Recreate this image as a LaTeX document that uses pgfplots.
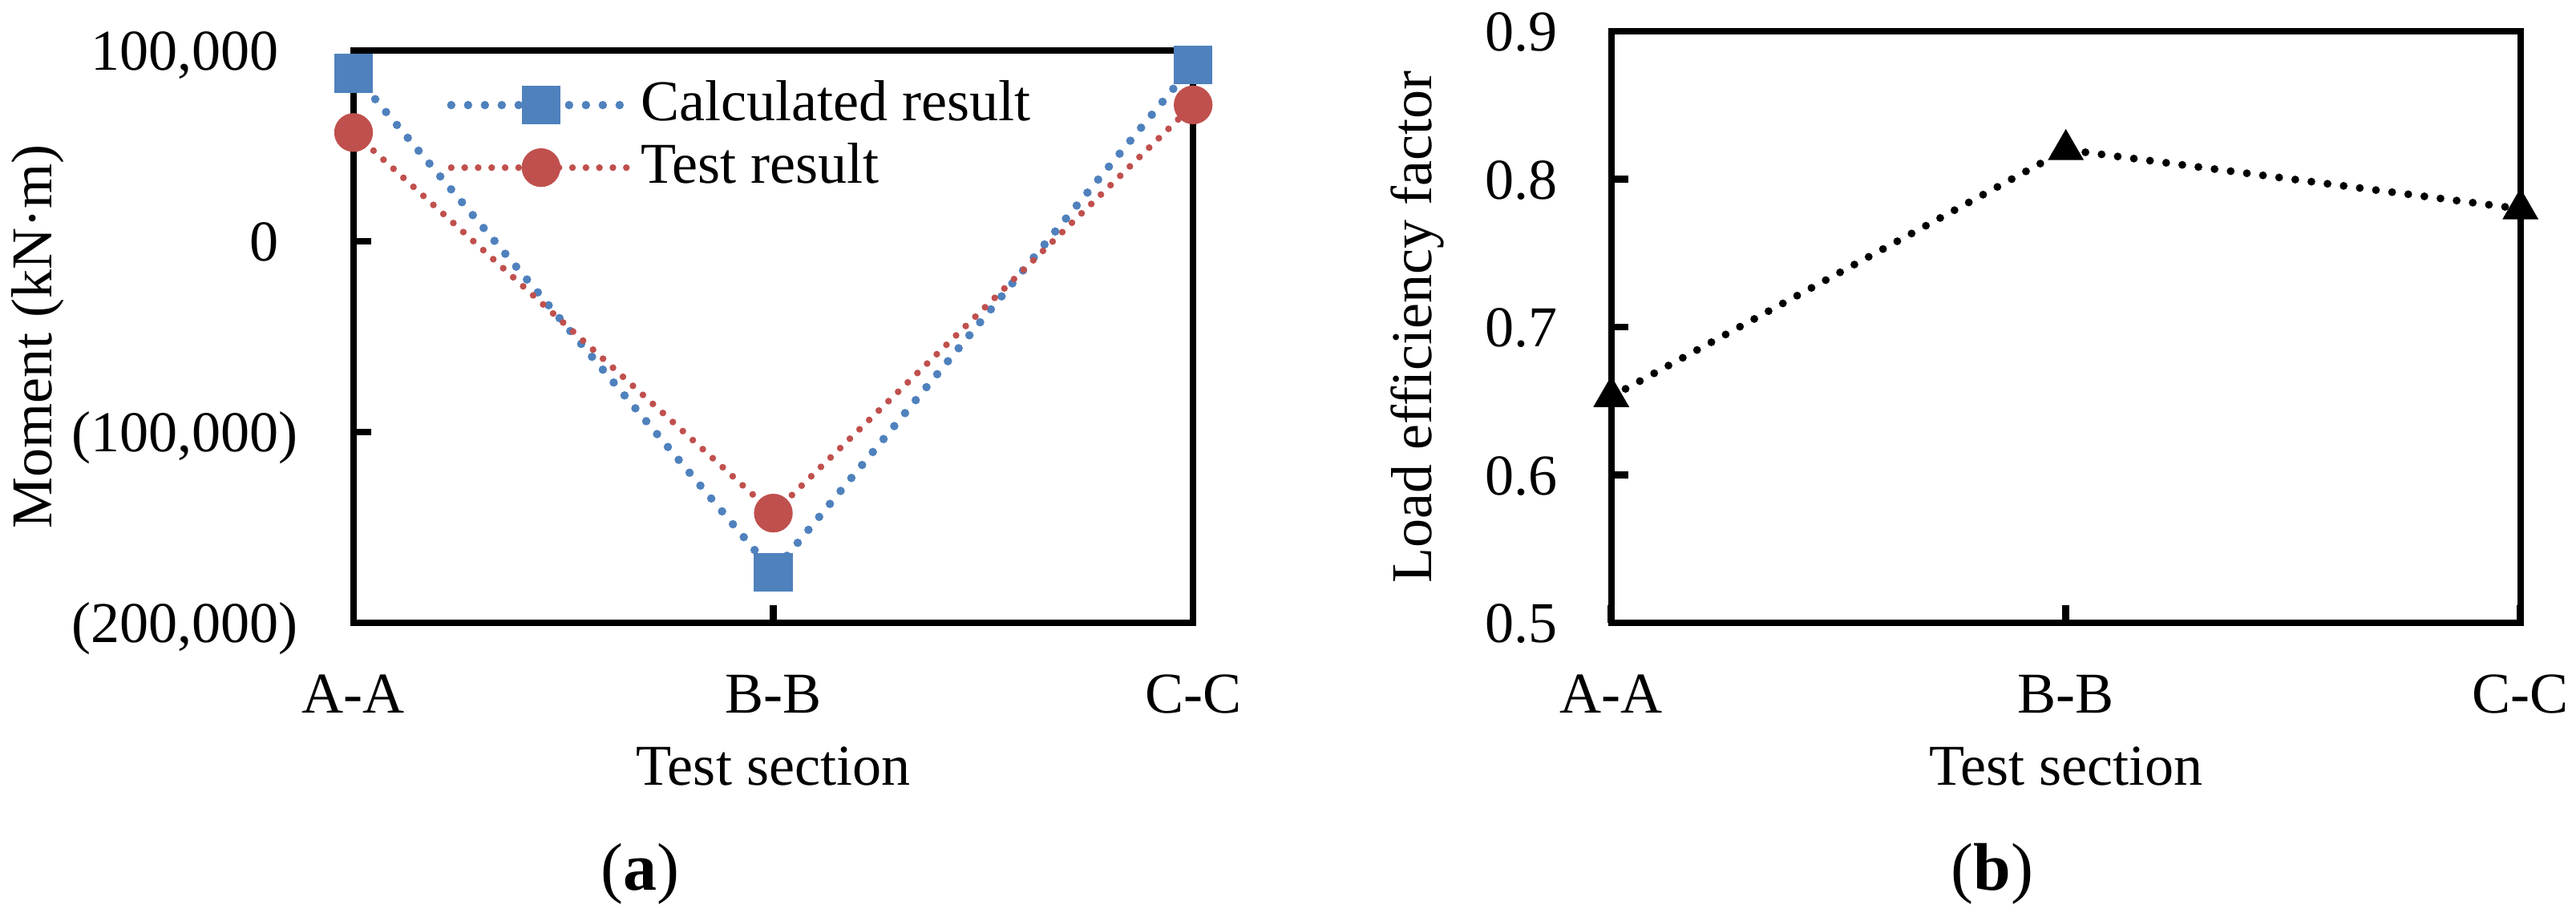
\documentclass[border=0pt]{standalone}
\usepackage{fontspec}
\setmainfont{Liberation Serif}
\usepackage{pgfplots}
\pgfplotsset{compat=1.18}
\definecolor{xlblue}{RGB}{79,129,189}
\definecolor{xlred}{RGB}{192,80,77}
\pgfplotsset{
  myaxis/.style={
    scale only axis,
    anchor=south west,
    axis line style={line width=1.1pt},
    tick align=inside,
    tick pos=left,
    major tick length=3.1pt,
    every tick/.style={black, line width=1.2pt},
    scaled y ticks=false,
    xmin=0, xmax=2,
    xtick={0,1,2},
    xticklabels={A-A,B-B,C-C},
    xticklabel style={anchor=base, yshift=-16.1pt},
    clip=false,
    xlabel={Test section},
    every axis x label/.style={at={(axis description cs:0.5,0)}, anchor=base, yshift=-28.9pt},
  }
}
\begin{document}
\begin{tikzpicture}[font=\fontsize{10.3}{12.4}\selectfont]
\useasboundingbox (0,0) rectangle (459pt,164.1pt);
% (a)
\begin{axis}[myaxis,
  at={(63pt,53.1pt)}, width=149.6pt, height=102pt,
  ymin=-200000, ymax=100000,
  ytick={-200000,-100000,0,100000},
  yticklabels={{(200,000)},{(100,000)},{0\phantom{)}},{100,000\phantom{)}}},
  yticklabel style={anchor=base east, xshift=-6.4pt, yshift=-3.5pt},
  ylabel={Moment (kN·m)},
  every axis y label/.style={at={(axis description cs:-0.36,0.5)}, rotate=90, anchor=base},
  legend style={draw=none, fill=none, at={(axis description cs:0.110,0.85)}, anchor=west,
    inner sep=0pt, nodes={inner sep=1pt}, row sep=0.5pt},
  legend cell align=left,
  legend image code/.code={\draw[mark repeat=2,mark phase=2,#1] plot coordinates {(0pt,0pt) (16pt,0pt) (32pt,0pt)};},
]
\addplot[color=xlblue, line width=1.5pt, line cap=round, dash pattern=on 0pt off 3pt,
  mark=square*, mark size=3.3pt, mark options={solid, fill=xlblue, draw=xlblue, line width=0.3pt}]
  coordinates {(0,88000) (1,-173500) (2,92500)};
\addlegendentry{Calculated result}
\addplot[color=xlred, line width=1.2pt, line cap=round, dash pattern=on 0pt off 2.4pt,
  mark=*, mark size=3.3pt, mark options={solid, fill=xlred, draw=xlred, line width=0.3pt}]
  coordinates {(0,57000) (1,-142500) (2,71500)};
\addlegendentry{Test result}
\node[anchor=base, font=\fontsize{12}{14}\selectfont] at (axis description cs:0.341,-0.467) {(\textbf{a})};
\end{axis}
% (b)
\begin{axis}[myaxis,
  at={(287.1pt,53.1pt)}, width=162pt, height=105.4pt,
  ymin=0.5, ymax=0.9,
  ytick={0.5,0.6,0.7,0.8,0.9},
  yticklabels={0.5,0.6,0.7,0.8,0.9},
  yticklabel style={anchor=base east, xshift=-6pt, yshift=-3.5pt},
  ylabel={Load efficiency factor},
  every axis y label/.style={at={(axis description cs:-0.198,0.5)}, rotate=90, anchor=base},
]
\addplot[color=black, line width=1.4pt, line cap=round, dash pattern=on 0pt off 2.9pt,
  mark=triangle*, mark size=3.4pt, mark options={solid, fill=black, draw=black, line width=0.3pt}]
  coordinates {(0,0.653) (1,0.82) (2,0.78)};
\node[anchor=base, font=\fontsize{12}{14}\selectfont] at (axis description cs:0.419,-0.452) {(\textbf{b})};
\end{axis}
\end{tikzpicture}
\end{document}
